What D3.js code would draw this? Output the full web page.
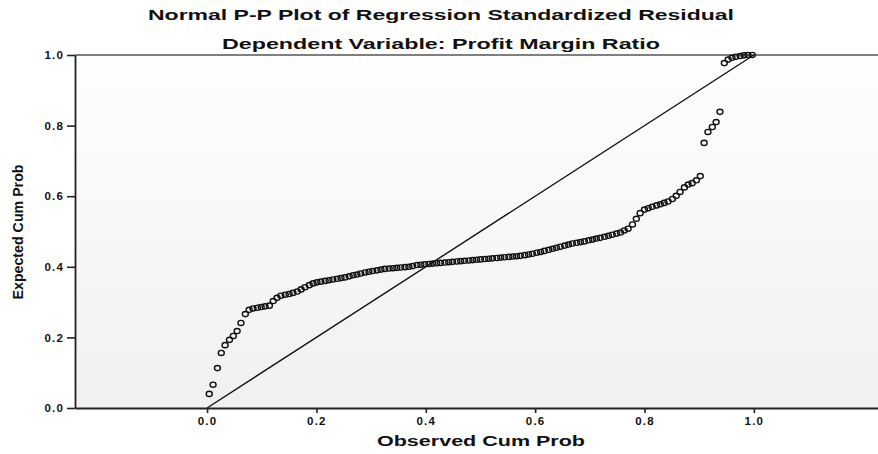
<!DOCTYPE html>
<html>
<head>
<meta charset="utf-8">
<script src="https://cdn.jsdelivr.net/npm/d3@7"></script>
<style>
  body { margin: 0; background: #fff; }
  text { font-family: "Liberation Sans", Arial, sans-serif; fill: #111; }
</style>
</head>
<body>
<svg id="canvas" width="878" height="454"></svg>
<script>
let titleLines = ['Normal P-P Plot of Regression Standardized Residual', 'Dependent Variable: Profit Margin Ratio']
let xLabel = 'Observed Cum Prob'
let yLabel = 'Expected Cum Prob'
let tickValues = [0, 0.2, 0.4, 0.6, 0.8, 1.0]

// observed cum prob (x) of each residual
let observed = [
  0.004, 0.011, 0.019, 0.026, 0.033, 0.041, 0.048, 0.055, 0.062, 0.070,
  0.077, 0.084, 0.092, 0.099, 0.106, 0.114, 0.121, 0.128, 0.135, 0.143,
  0.150, 0.157, 0.165, 0.172, 0.179, 0.187, 0.194, 0.201, 0.208, 0.216,
  0.223, 0.230, 0.238, 0.245, 0.252, 0.260, 0.267, 0.274, 0.281, 0.289,
  0.296, 0.303, 0.311, 0.318, 0.325, 0.333, 0.340, 0.347, 0.354, 0.362,
  0.369, 0.376, 0.384, 0.391, 0.398, 0.406, 0.413, 0.420, 0.427, 0.435,
  0.442, 0.449, 0.457, 0.464, 0.471, 0.479, 0.486, 0.493, 0.500, 0.508,
  0.515, 0.522, 0.530, 0.537, 0.544, 0.552, 0.559, 0.566, 0.573, 0.581,
  0.588, 0.595, 0.603, 0.610, 0.617, 0.625, 0.632, 0.639, 0.646, 0.654,
  0.661, 0.668, 0.676, 0.683, 0.690, 0.698, 0.705, 0.712, 0.719, 0.727,
  0.734, 0.741, 0.749, 0.756, 0.763, 0.770, 0.778, 0.785, 0.792, 0.800,
  0.807, 0.814, 0.822, 0.829, 0.836, 0.843, 0.851, 0.858, 0.865, 0.873,
  0.880, 0.887, 0.895, 0.902, 0.909, 0.916, 0.924, 0.931, 0.938, 0.946,
  0.953, 0.960, 0.967, 0.975, 0.982, 0.989, 0.997
]

// expected cum prob (y)
let expected = [
  0.040, 0.066, 0.113, 0.156, 0.178, 0.193, 0.204, 0.218, 0.241, 0.266,
  0.278, 0.282, 0.284, 0.286, 0.288, 0.290, 0.303, 0.312, 0.318, 0.321,
  0.323, 0.326, 0.330, 0.336, 0.342, 0.348, 0.353, 0.356, 0.358, 0.360,
  0.362, 0.364, 0.366, 0.368, 0.370, 0.373, 0.376, 0.378, 0.381, 0.384,
  0.386, 0.388, 0.390, 0.392, 0.394, 0.395, 0.396, 0.397, 0.398, 0.399,
  0.400, 0.402, 0.405, 0.406, 0.407, 0.408, 0.409, 0.410, 0.411, 0.412,
  0.413, 0.414, 0.415, 0.416, 0.417, 0.418, 0.419, 0.420, 0.421, 0.422,
  0.423, 0.424, 0.425, 0.426, 0.427, 0.428, 0.429, 0.430, 0.431, 0.433,
  0.435, 0.437, 0.440, 0.442, 0.445, 0.448, 0.451, 0.454, 0.457, 0.460,
  0.463, 0.466, 0.468, 0.470, 0.472, 0.475, 0.477, 0.480, 0.482, 0.485,
  0.488, 0.491, 0.494, 0.497, 0.503, 0.508, 0.520, 0.536, 0.552, 0.562,
  0.566, 0.570, 0.574, 0.577, 0.581, 0.585, 0.592, 0.601, 0.612, 0.625,
  0.633, 0.637, 0.645, 0.657, 0.751, 0.782, 0.796, 0.810, 0.839, 0.977,
  0.987, 0.992, 0.995, 0.997, 0.999, 1.000, 1.000
]

let points = observed.map((o, i) => ({ x: o, y: expected[i] }))

let canvas = d3.select('#canvas')
let plotLeft = 75, plotRight = 878, plotTop = 55, plotBottom = 408

let xScale = d3.scaleLinear().domain([-0.2415, 1.227]).range([plotLeft, plotRight])
let yScale = d3.scaleLinear().domain([0, 1]).range([plotBottom, plotTop])

// faint scanned-paper shading in the plot area
let defs = canvas.append('defs')
let grad = defs.append('linearGradient').attr('id', 'bg').attr('x1', 0).attr('y1', 0).attr('x2', 0).attr('y2', 1)
grad.append('stop').attr('offset', '0%').attr('stop-color', '#fefefe')
grad.append('stop').attr('offset', '100%').attr('stop-color', '#f0f0f0')

canvas.append('rect')
      .attr('x', plotLeft).attr('y', plotTop)
      .attr('width', plotRight - plotLeft).attr('height', plotBottom - plotTop)
      .attr('fill', 'url(#bg)')

// top frame line
canvas.append('line')
      .attr('x1', plotLeft).attr('x2', plotRight)
      .attr('y1', plotTop).attr('y2', plotTop)
      .attr('stroke', '#555').attr('stroke-width', 1.5)

// reference diagonal
canvas.append('line')
      .attr('x1', xScale(0)).attr('y1', yScale(0))
      .attr('x2', xScale(1)).attr('y2', yScale(1))
      .attr('stroke', '#111').attr('stroke-width', 1.4)

canvas.append('g')
      .selectAll('ellipse')
      .data(points)
      .enter()
      .append('ellipse')
      .attr('cx', (d) => xScale(d.x))
      .attr('cy', (d) => yScale(d.y))
      .attr('rx', 3)
      .attr('ry', 2.6)
      .attr('fill', 'none')
      .attr('stroke', '#111')
      .attr('stroke-width', 1.4)

let xAxis = d3.axisBottom(xScale)
              .tickValues(tickValues)
              .tickFormat(d3.format('.1f'))
              .tickSize(5)
              .tickSizeOuter(0)
              .tickPadding(4)

let yAxis = d3.axisLeft(yScale)
              .tickValues(tickValues)
              .tickFormat(d3.format('.1f'))
              .tickSize(8)
              .tickSizeOuter(0)
              .tickPadding(3)

let gx = canvas.append('g')
               .attr('transform', 'translate(0,' + plotBottom + ')')
               .call(xAxis)
let gy = canvas.append('g')
               .attr('transform', 'translate(' + plotLeft + ',0)')
               .call(yAxis)

;[gx, gy].forEach((g) => {
    g.select('.domain').attr('stroke', '#222').attr('stroke-width', 1.8)
    g.selectAll('.tick line').attr('stroke', '#222').attr('stroke-width', 1.6)
    g.selectAll('.tick text')
     .style('font-family', '"Liberation Sans", Arial, sans-serif')
     .style('font-size', '11.5px')
     .style('font-weight', 'bold')
     .style('letter-spacing', '1.2px')
     .attr('fill', '#222')
})

// titles
canvas.selectAll('.title')
      .data(titleLines)
      .enter()
      .append('text')
      .attr('class', 'title')
      .attr('x', 441)
      .attr('y', (d, i) => i === 0 ? 20 : 49)
      .attr('text-anchor', 'middle')
      .attr('textLength', (d, i) => i === 0 ? 586 : 438)
      .attr('lengthAdjust', 'spacingAndGlyphs')
      .style('font-size', '15px')
      .style('font-weight', 'bold')
      .text((d) => d)

canvas.append('text')
      .attr('x', 481)
      .attr('y', 446)
      .attr('text-anchor', 'middle')
      .attr('textLength', 208)
      .attr('lengthAdjust', 'spacingAndGlyphs')
      .style('font-size', '14px')
      .style('font-weight', 'bold')
      .text(xLabel)

canvas.append('text')
      .attr('transform', 'translate(23,232) rotate(-90)')
      .attr('text-anchor', 'middle')
      .attr('textLength', 135)
      .attr('lengthAdjust', 'spacingAndGlyphs')
      .style('font-family', '"Liberation Sans Narrow", "Liberation Sans", Arial, sans-serif')
      .style('font-size', '15px')
      .style('font-weight', 'bold')
      .text(yLabel)
</script>
</body>
</html>
